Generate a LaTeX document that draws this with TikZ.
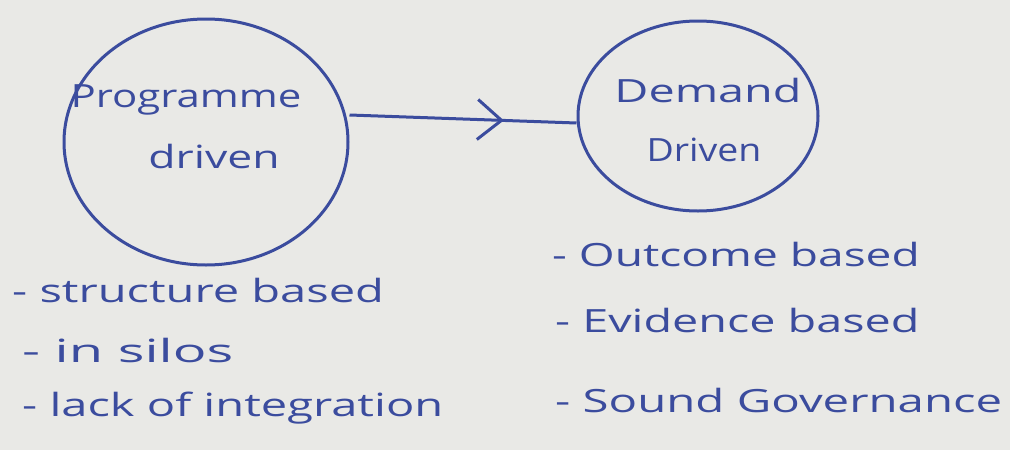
\documentclass[tikz,border=0pt]{standalone}
\usepackage{fontspec}
\usepackage{graphicx}
\setmainfont{Open Sans}
\usetikzlibrary{shapes.geometric,arrows.meta,decorations.markings}
\definecolor{ink}{HTML}{3B4C9E}
\definecolor{paper}{HTML}{E9E9E6}
% wide, loose hand lettering
\newcommand\handw[2][1.47]{\scalebox{#1}[1]{#2}}
\tikzset{
  bubble/.style={draw=ink, line width=3pt, ellipse, inner sep=0pt},
  hand/.style={text=ink, font=\fontsize{32}{36}\selectfont, anchor=west, inner sep=0pt},
  label/.style={text=ink, font=\fontsize{32}{36}\selectfont, inner sep=0pt},
  flow/.style={draw=ink, line width=3pt,
    postaction={decorate},
    decoration={markings, mark=at position 0.68 with
      {\arrow[ink, line width=3pt]{Straight Barb[length=24pt,width=40pt]}}}},
}
\begin{document}
\begin{tikzpicture}[x=1pt,y=-1pt]
  \fill[paper] (0,0) rectangle (1010,450);
  \useasboundingbox (0,0) rectangle (1010,450);

  % the two approaches
  \node[bubble, minimum width=284pt, minimum height=246pt] (prog) at (206,142) {};
  \node[bubble, minimum width=240pt, minimum height=190pt] (dem) at (698,116) {};

  \node[label] (progA) at (186,100) {\handw[1.31]{Programme}};
  \node[label] (progB) at (214,156) {\handw[1.39]{driven}};
  \node[label] (demA) at (708,90) {\handw[1.46]{Demand}};
  \node[label] (demB) at (704,150) {\handw[1.17]{Driven}};

  % shift from one to the other
  \path[flow] (prog.east |- 0,115) coordinate (s) -- (dem.west |- 0,123) coordinate (t);

  % features of each
  \node[hand] (l1) at (12,290) {\handw{- structure based}};
  \node[hand] (l2) at (22,350) {\handw[1.75]{- in silos}};
  \node[hand] (l3) at (22,408) {\handw{- lack of integration}};

  \node[hand] (r1) at (552,254) {\handw[1.44]{- Outcome based}};
  \node[hand] (r2) at (555,320) {\handw[1.46]{- Evidence based}};
  \node[hand] (r3) at (555,400) {\handw[1.48]{- Sound Governance}};
\end{tikzpicture}
\end{document}
